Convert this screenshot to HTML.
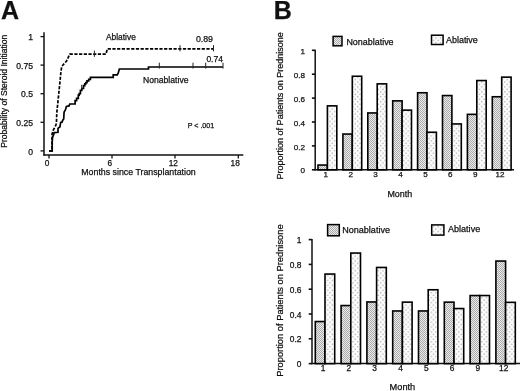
<!DOCTYPE html>
<html><head><meta charset="utf-8"><style>
html,body{margin:0;padding:0;background:#fff;}
svg{display:block;}
text{font-family:"Liberation Sans", sans-serif;fill:#111;stroke:#111;stroke-width:0.25px;}
svg{will-change:transform;}
</style></head><body>
<svg width="520" height="391" viewBox="0 0 520 391">
<defs>
<pattern id="pn" patternUnits="userSpaceOnUse" width="2" height="2">
<rect width="2" height="2" fill="#ebebeb"/><rect x="0" y="0" width="1" height="1" fill="#ababab"/><rect x="1" y="1" width="1" height="1" fill="#ababab"/>
</pattern>
<pattern id="pa" patternUnits="userSpaceOnUse" width="4.6" height="4.9">
<rect width="4.6" height="4.9" fill="#fcfcfc"/><circle cx="1.15" cy="1.2" r="0.75" fill="#a8a8a8"/><circle cx="3.45" cy="3.65" r="0.75" fill="#a8a8a8"/>
</pattern>
</defs>
<rect width="520" height="391" fill="#fff"/>
<text x="1" y="18.7" font-size="25" text-anchor="start" font-weight="bold" >A</text>
<line x1="44" y1="32.3" x2="44" y2="155.6" stroke="#111" stroke-width="1.5" />
<line x1="43.3" y1="155" x2="243.3" y2="155" stroke="#111" stroke-width="1.5" />
<line x1="40.5" y1="36.6" x2="44" y2="36.6" stroke="#111" stroke-width="1.3" />
<text x="33" y="40.2" font-size="8.6" text-anchor="end" font-weight="normal" >1</text>
<line x1="40.5" y1="65.1" x2="44" y2="65.1" stroke="#111" stroke-width="1.3" />
<text x="33" y="68.7" font-size="8.6" text-anchor="end" font-weight="normal" >0.75</text>
<line x1="40.5" y1="93.7" x2="44" y2="93.7" stroke="#111" stroke-width="1.3" />
<text x="33" y="97.3" font-size="8.6" text-anchor="end" font-weight="normal" >0.5</text>
<line x1="40.5" y1="122.3" x2="44" y2="122.3" stroke="#111" stroke-width="1.3" />
<text x="33" y="125.9" font-size="8.6" text-anchor="end" font-weight="normal" >0.25</text>
<line x1="40.5" y1="150.9" x2="44" y2="150.9" stroke="#111" stroke-width="1.3" />
<text x="33" y="154.5" font-size="8.6" text-anchor="end" font-weight="normal" >0</text>
<line x1="49" y1="155" x2="49" y2="158.6" stroke="#111" stroke-width="1.3" />
<text x="47.1" y="166.4" font-size="8.3" text-anchor="middle" font-weight="normal" >0</text>
<line x1="112" y1="155" x2="112" y2="158.6" stroke="#111" stroke-width="1.3" />
<text x="109.8" y="166.4" font-size="8.3" text-anchor="middle" font-weight="normal" >6</text>
<line x1="175" y1="155" x2="175" y2="158.6" stroke="#111" stroke-width="1.3" />
<text x="173.3" y="166.4" font-size="8.3" text-anchor="middle" font-weight="normal" >12</text>
<line x1="238.3" y1="155" x2="238.3" y2="158.6" stroke="#111" stroke-width="1.3" />
<text x="235.2" y="166.4" font-size="8.3" text-anchor="middle" font-weight="normal" >18</text>
<text x="81.3" y="174.6" font-size="8.8" text-anchor="start" font-weight="normal" >Months since Transplantation</text>
<text x="0" y="0" font-size="8.55" text-anchor="start" font-weight="normal" transform="translate(7.4,147.8) rotate(-90)">Probability of Steroid Initiation</text>
<path d="M49,151 H52 V134.3 L53.4,129.7 L55.3,126.6 L56.4,123.5 L56.8,112.8 L60.2,79.4 L61,71 L61.8,66.4 L66.4,61.2 L69.8,54.2 H106 L107.3,48.8 H213.5" fill="none" stroke="#000" stroke-width="1.7" stroke-dasharray="3.2,1.5"/>
<path d="M49,151 H52.2 V142 L52.6,137.3 L53.8,134.3 L54.1,132.6 L58,132.3 V128.5 L58.7,127.7 L59.9,127 L60.7,122.4 L62.2,122 L62.6,120.4 L63.7,118.9 L64.1,112 L65.4,110 L66.4,106.4 L69,105.9 L69.8,104 H75.1 V100.6 H76.6 V98.3 H78.3 V95.2 H79.2 V93.6 H80.4 V90.4 H81.8 V88.5 H83.5 V85.6 H84.8 V83.8 H85.8 V82.7 H87 V80.8 H88.7 V79.4 H90.4 V77.4 H113.2 V74.8 H117.3 L118.3,72.8 L119.4,69 H148.5 V67 H223" fill="none" stroke="#000" stroke-width="1.7"/>
<line x1="94.4" y1="50.6" x2="94.4" y2="56.8" stroke="#222" stroke-width="1.0" />
<line x1="180" y1="45.2" x2="180" y2="51.4" stroke="#222" stroke-width="1.0" />
<line x1="213.5" y1="45.2" x2="213.5" y2="51.4" stroke="#222" stroke-width="1.0" />
<line x1="81.7" y1="84.8" x2="81.7" y2="89" stroke="#222" stroke-width="1.0" />
<line x1="159.3" y1="62.7" x2="159.3" y2="68.6" stroke="#222" stroke-width="1.0" />
<line x1="193" y1="62.7" x2="193" y2="68.6" stroke="#222" stroke-width="1.0" />
<line x1="205.7" y1="62.7" x2="205.7" y2="68.6" stroke="#222" stroke-width="1.0" />
<line x1="223" y1="62.7" x2="223" y2="68.6" stroke="#222" stroke-width="1.0" />
<text x="106" y="39.5" font-size="8.4" text-anchor="start" font-weight="normal" >Ablative</text>
<text x="195.9" y="42.3" font-size="8.8" text-anchor="start" font-weight="normal" >0.89</text>
<text x="206.4" y="61.5" font-size="8.5" text-anchor="start" font-weight="normal" >0.74</text>
<text x="143" y="83.1" font-size="8.62" text-anchor="start" font-weight="normal" >Nonablative</text>
<text x="187.7" y="127.9" font-size="7.1" text-anchor="start" font-weight="normal" >P &lt; .001</text>
<text x="273.8" y="18.7" font-size="25" text-anchor="start" font-weight="bold" >B</text>
<line x1="315.2" y1="49.7" x2="315.2" y2="170.5" stroke="#111" stroke-width="1.5" />
<line x1="314.5" y1="169.8" x2="514" y2="169.8" stroke="#111" stroke-width="1.5" />
<line x1="311.9" y1="169.8" x2="315.2" y2="169.8" stroke="#111" stroke-width="1.6" />
<text x="305" y="173.4" font-size="8.1" text-anchor="end" font-weight="normal" >0</text>
<line x1="311.9" y1="145.9" x2="315.2" y2="145.9" stroke="#111" stroke-width="1.6" />
<text x="305" y="149.5" font-size="8.1" text-anchor="end" font-weight="normal" >0.2</text>
<line x1="311.9" y1="122" x2="315.2" y2="122" stroke="#111" stroke-width="1.6" />
<text x="305" y="125.6" font-size="8.1" text-anchor="end" font-weight="normal" >0.4</text>
<line x1="311.9" y1="98.1" x2="315.2" y2="98.1" stroke="#111" stroke-width="1.6" />
<text x="305" y="101.7" font-size="8.1" text-anchor="end" font-weight="normal" >0.6</text>
<line x1="311.9" y1="74.2" x2="315.2" y2="74.2" stroke="#111" stroke-width="1.6" />
<text x="305" y="77.8" font-size="8.1" text-anchor="end" font-weight="normal" >0.8</text>
<line x1="311.9" y1="50.3" x2="315.2" y2="50.3" stroke="#111" stroke-width="1.6" />
<text x="305" y="53.9" font-size="8.1" text-anchor="end" font-weight="normal" >1</text>
<rect x="318.00" y="165.05" width="9.40" height="4.75" fill="url(#pn)" stroke="#000" stroke-width="1.6"/>
<rect x="327.40" y="105.85" width="9.40" height="63.95" fill="url(#pa)" stroke="#000" stroke-width="1.6"/>
<rect x="342.90" y="134.05" width="9.40" height="35.75" fill="url(#pn)" stroke="#000" stroke-width="1.6"/>
<rect x="352.30" y="76.25" width="9.40" height="93.55" fill="url(#pa)" stroke="#000" stroke-width="1.6"/>
<rect x="367.80" y="112.95" width="9.40" height="56.85" fill="url(#pn)" stroke="#000" stroke-width="1.6"/>
<rect x="377.20" y="83.85" width="9.40" height="85.95" fill="url(#pa)" stroke="#000" stroke-width="1.6"/>
<rect x="392.70" y="100.85" width="9.40" height="68.95" fill="url(#pn)" stroke="#000" stroke-width="1.6"/>
<rect x="402.10" y="110.15" width="9.40" height="59.65" fill="url(#pa)" stroke="#000" stroke-width="1.6"/>
<rect x="417.60" y="92.75" width="9.40" height="77.05" fill="url(#pn)" stroke="#000" stroke-width="1.6"/>
<rect x="427.00" y="132.25" width="9.40" height="37.55" fill="url(#pa)" stroke="#000" stroke-width="1.6"/>
<rect x="442.50" y="95.55" width="9.40" height="74.25" fill="url(#pn)" stroke="#000" stroke-width="1.6"/>
<rect x="451.90" y="123.95" width="9.40" height="45.85" fill="url(#pa)" stroke="#000" stroke-width="1.6"/>
<rect x="467.40" y="114.35" width="9.40" height="55.45" fill="url(#pn)" stroke="#000" stroke-width="1.6"/>
<rect x="476.80" y="80.55" width="9.40" height="89.25" fill="url(#pa)" stroke="#000" stroke-width="1.6"/>
<rect x="492.30" y="96.75" width="9.40" height="73.05" fill="url(#pn)" stroke="#000" stroke-width="1.6"/>
<rect x="501.70" y="77.15" width="9.40" height="92.65" fill="url(#pa)" stroke="#000" stroke-width="1.6"/>
<text x="325.8" y="177.4" font-size="8.1" text-anchor="middle" font-weight="normal" >1</text>
<text x="350.7" y="177.4" font-size="8.1" text-anchor="middle" font-weight="normal" >2</text>
<text x="375.6" y="177.4" font-size="8.1" text-anchor="middle" font-weight="normal" >3</text>
<text x="400.5" y="177.4" font-size="8.1" text-anchor="middle" font-weight="normal" >4</text>
<text x="425.4" y="177.4" font-size="8.1" text-anchor="middle" font-weight="normal" >5</text>
<text x="450.3" y="177.4" font-size="8.1" text-anchor="middle" font-weight="normal" >6</text>
<text x="475.2" y="177.4" font-size="8.1" text-anchor="middle" font-weight="normal" >9</text>
<text x="500.1" y="177.4" font-size="8.1" text-anchor="middle" font-weight="normal" >12</text>
<text x="0" y="0" font-size="9.02" text-anchor="start" font-weight="normal" transform="translate(283,179.5) rotate(-90)">Proportion of Patients on Prednisone</text>
<text x="387.4" y="196.9" font-size="8.91" text-anchor="start" font-weight="normal" >Month</text>
<rect x="333.10" y="36.40" width="8.90" height="9.40" fill="url(#pn)" stroke="#000" stroke-width="1.5"/>
<text x="346.4" y="44.6" font-size="8.95" text-anchor="start" font-weight="normal" >Nonablative</text>
<rect x="431.50" y="35.20" width="11.60" height="9.30" fill="url(#pa)" stroke="#000" stroke-width="1.5"/>
<text x="446" y="42.9" font-size="8.95" text-anchor="start" font-weight="normal" >Ablative</text>
<line x1="312" y1="239" x2="312" y2="364.3" stroke="#111" stroke-width="1.5" />
<line x1="311.3" y1="363.6" x2="520" y2="363.6" stroke="#111" stroke-width="1.5" />
<line x1="308.7" y1="363.6" x2="312" y2="363.6" stroke="#111" stroke-width="1.6" />
<text x="301.4" y="367.2" font-size="8.4" text-anchor="end" font-weight="normal" >0</text>
<line x1="308.7" y1="338.8" x2="312" y2="338.8" stroke="#111" stroke-width="1.6" />
<text x="301.4" y="342.4" font-size="8.4" text-anchor="end" font-weight="normal" >0.2</text>
<line x1="308.7" y1="314" x2="312" y2="314" stroke="#111" stroke-width="1.6" />
<text x="301.4" y="317.6" font-size="8.4" text-anchor="end" font-weight="normal" >0.4</text>
<line x1="308.7" y1="289.2" x2="312" y2="289.2" stroke="#111" stroke-width="1.6" />
<text x="301.4" y="292.8" font-size="8.4" text-anchor="end" font-weight="normal" >0.6</text>
<line x1="308.7" y1="264.4" x2="312" y2="264.4" stroke="#111" stroke-width="1.6" />
<text x="301.4" y="268" font-size="8.4" text-anchor="end" font-weight="normal" >0.8</text>
<line x1="308.7" y1="239.6" x2="312" y2="239.6" stroke="#111" stroke-width="1.6" />
<text x="301.4" y="243.2" font-size="8.4" text-anchor="end" font-weight="normal" >1</text>
<rect x="315.30" y="321.55" width="9.70" height="42.05" fill="url(#pn)" stroke="#000" stroke-width="1.6"/>
<rect x="325.00" y="274.05" width="9.70" height="89.55" fill="url(#pa)" stroke="#000" stroke-width="1.6"/>
<rect x="341.10" y="305.55" width="9.70" height="58.05" fill="url(#pn)" stroke="#000" stroke-width="1.6"/>
<rect x="350.80" y="253.05" width="9.70" height="110.55" fill="url(#pa)" stroke="#000" stroke-width="1.6"/>
<rect x="366.90" y="301.95" width="9.70" height="61.65" fill="url(#pn)" stroke="#000" stroke-width="1.6"/>
<rect x="376.60" y="267.45" width="9.70" height="96.15" fill="url(#pa)" stroke="#000" stroke-width="1.6"/>
<rect x="392.70" y="310.95" width="9.70" height="52.65" fill="url(#pn)" stroke="#000" stroke-width="1.6"/>
<rect x="402.40" y="302.15" width="9.70" height="61.45" fill="url(#pa)" stroke="#000" stroke-width="1.6"/>
<rect x="418.50" y="310.95" width="9.70" height="52.65" fill="url(#pn)" stroke="#000" stroke-width="1.6"/>
<rect x="428.20" y="289.75" width="9.70" height="73.85" fill="url(#pa)" stroke="#000" stroke-width="1.6"/>
<rect x="444.30" y="302.15" width="9.70" height="61.45" fill="url(#pn)" stroke="#000" stroke-width="1.6"/>
<rect x="454.00" y="308.55" width="9.70" height="55.05" fill="url(#pa)" stroke="#000" stroke-width="1.6"/>
<rect x="470.10" y="295.55" width="9.70" height="68.05" fill="url(#pn)" stroke="#000" stroke-width="1.6"/>
<rect x="479.80" y="295.55" width="9.70" height="68.05" fill="url(#pa)" stroke="#000" stroke-width="1.6"/>
<rect x="495.90" y="261.05" width="9.70" height="102.55" fill="url(#pn)" stroke="#000" stroke-width="1.6"/>
<rect x="505.60" y="302.35" width="9.70" height="61.25" fill="url(#pa)" stroke="#000" stroke-width="1.6"/>
<text x="323.1" y="371.1" font-size="8.4" text-anchor="middle" font-weight="normal" >1</text>
<text x="348.9" y="371.1" font-size="8.4" text-anchor="middle" font-weight="normal" >2</text>
<text x="374.7" y="371.1" font-size="8.4" text-anchor="middle" font-weight="normal" >3</text>
<text x="400.5" y="371.1" font-size="8.4" text-anchor="middle" font-weight="normal" >4</text>
<text x="426.3" y="371.1" font-size="8.4" text-anchor="middle" font-weight="normal" >5</text>
<text x="452.1" y="371.1" font-size="8.4" text-anchor="middle" font-weight="normal" >6</text>
<text x="477.9" y="371.1" font-size="8.4" text-anchor="middle" font-weight="normal" >9</text>
<text x="503.7" y="371.1" font-size="8.4" text-anchor="middle" font-weight="normal" >12</text>
<text x="0" y="0" font-size="9.34" text-anchor="start" font-weight="normal" transform="translate(283,376.8) rotate(-90)">Proportion of Patients on Prednisone</text>
<text x="389.6" y="390" font-size="9.24" text-anchor="start" font-weight="normal" >Month</text>
<rect x="327.60" y="224.60" width="11.70" height="11.20" fill="url(#pn)" stroke="#000" stroke-width="1.5"/>
<text x="342.2" y="233.2" font-size="9.05" text-anchor="start" font-weight="normal" >Nonablative</text>
<rect x="431.70" y="224.90" width="12.20" height="10.20" fill="url(#pa)" stroke="#000" stroke-width="1.5"/>
<text x="448" y="232.4" font-size="9.05" text-anchor="start" font-weight="normal" >Ablative</text>
</svg>
</body></html>
